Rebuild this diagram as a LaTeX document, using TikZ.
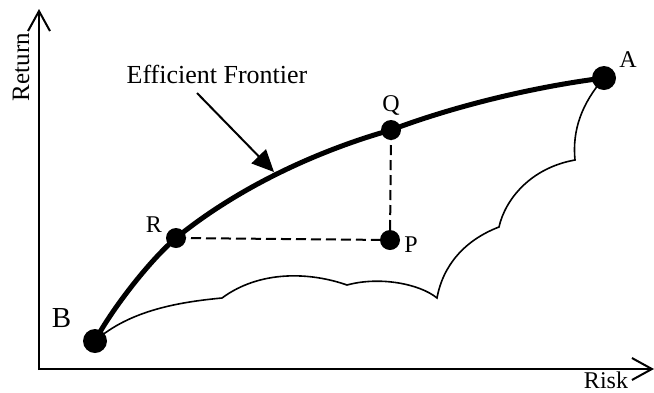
\documentclass[tikz,border=0pt]{standalone}
\usepackage{fontspec}
\setmainfont{Liberation Serif}
\usetikzlibrary{arrows.meta}
\begin{document}
\begin{tikzpicture}[x=1pt,y=-1pt,
  dot/.style={circle,fill=black,inner sep=0pt},
  lbl/.style={anchor=base,inner sep=0pt,font=\fontsize{24}{28}\selectfont},
  axis/.style={line width=2pt,-{Straight Barb[length=20pt,width=22pt,line width=2pt]}},
  dash2/.style={line width=2pt,dash pattern=on 10pt off 5pt}]
\useasboundingbox (0,0) rectangle (654,392);
% axes
\coordinate (O) at (39,369);
\coordinate (Ytop) at (39,9);
\coordinate (Xend) at (654,369);
\draw[axis] (39,370) -- (Ytop);
\draw[axis] (38,369) -- (Xend);
\node[rotate=90,inner sep=0pt,font=\fontsize{25}{28}\selectfont] (ret) at (21,67) {Return};
\node[lbl,font=\fontsize{24}{28}\selectfont] (risk) at (606,388) {Risk};
% points
\node[dot,minimum size=24pt] (B) at (95,341) {};
\node[dot,minimum size=20pt] (R) at (176,238) {};
\node[dot,minimum size=20pt] (Q) at (391,130) {};
\node[dot,minimum size=20pt] (P) at (390,240) {};
\node[dot,minimum size=24pt] (A) at (604,78) {};
% lower boundary
\draw[line width=1.6pt,line join=miter]
  (B.center) .. controls (130,310) and (180,302) .. (222,298)
  .. controls (260,270) and (310,272) .. (347,285)
  .. controls (380,276) and (420,284) .. (437,298)
  .. controls (443,265) and (465,240) .. (499,227)
  .. controls (505,200) and (530,168) .. (575,160)
  .. controls (572,130) and (582,103) .. (A.center);
% frontier
\draw[line width=5pt]
  (B.center) .. controls (110,312) and (148,262) .. (R.center)
  .. controls (240,186) and (320,150) .. (Q.center)
  .. controls (460,104) and (540,86) .. (A.center);
% dashed
\draw[dash2] (R.center) -- (P.center);
\draw[dash2] (Q.center) -- (P.center);
% labels
\node[lbl] (la) at (628,67) {A};
\node[lbl,font=\fontsize{29}{32}\selectfont] (lb) at (61.5,327) {B};
\node[lbl] (lq) at (391,111) {Q};
\node[lbl] (lr) at (154,232) {R};
\node[lbl] (lp) at (411,252) {P};
\node[lbl,font=\fontsize{26}{28}\selectfont] (ef) at (217,83) {Efficient Frontier};
\coordinate (efs) at (197,93);
\coordinate (eft) at (274,172);
\draw[line width=2pt,-{Triangle[length=22pt,width=20pt]}] (efs) -- (eft);
\end{tikzpicture}
\end{document}
